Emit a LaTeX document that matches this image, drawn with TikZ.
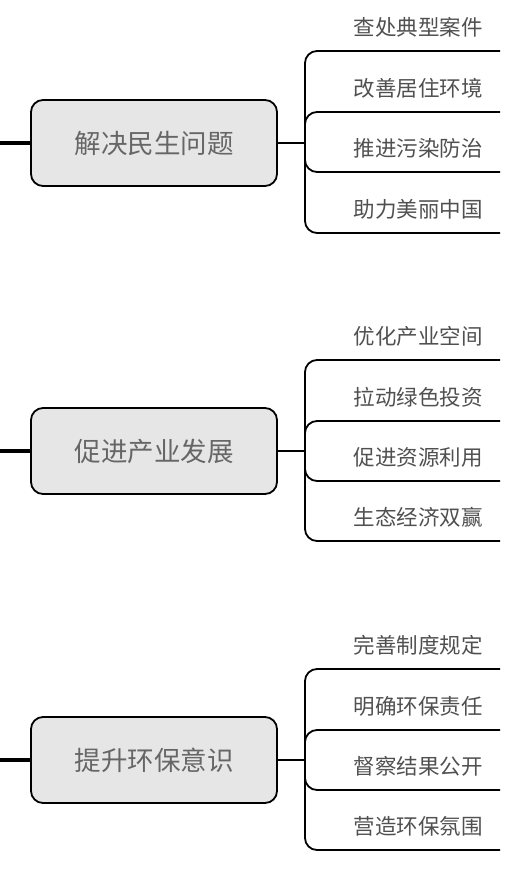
\documentclass[tikz,border=0pt]{standalone}
\usepackage{fontspec}
\newfontfamily\cjk{Noto Sans CJK SC}
\usepackage{xcolor}
\usepackage{tikz}
\usetikzlibrary{positioning}
\definecolor{topicfill}{HTML}{E6E6E6}
\definecolor{topictext}{HTML}{666666}
\definecolor{leaftext}{HTML}{505050}
\tikzset{
  topic/.style={draw=black, rounded corners=12pt, line width=1.8pt, fill=topicfill,
    minimum width=246pt, minimum height=86pt, inner sep=0pt,
    font=\cjk\fontsize{26.5pt}{30pt}\selectfont, text=topictext},
  leaf/.style={inner sep=0pt, font=\cjk\fontsize{21.5pt}{25pt}\selectfont, text=leaftext},
  link/.style={line width=1.8pt, draw=black, rounded corners=12pt},
  trunk/.style={line width=4pt, draw=black},
}

\begin{document}
\begin{tikzpicture}[x=1pt, y=-1pt]

\useasboundingbox (0,0) rectangle (526,874);

% topics
\node[topic] (t_live) at (154,143) {解决民生问题};
\node[topic] (t_ind) at (154,451) {促进产业发展};
\node[topic] (t_aware) at (154,760) {提升环保意识};

\coordinate (r_live) at (0,143);
\coordinate (r_ind) at (0,451);
\coordinate (r_aware) at (0,760);

\coordinate (j_live) at (305,143);
\coordinate (j_ind) at (305,451);
\coordinate (j_aware) at (305,760);

% leaves, group 1
\node[leaf] (l_case) at (418,27) {查处典型案件};
\node[leaf] (l_home) at (418,88) {改善居住环境};
\node[leaf] (l_poll) at (418,148) {推进污染防治};
\node[leaf] (l_china) at (418,209) {助力美丽中国};
\coordinate (e_case) at (500,51);
\coordinate (e_home) at (500,112);
\coordinate (e_poll) at (500,172);
\coordinate (e_china) at (500,233);

% leaves, group 2
\node[leaf] (l_space) at (418,336) {优化产业空间};
\node[leaf] (l_invest) at (418,397) {拉动绿色投资};
\node[leaf] (l_res) at (418,457) {促进资源利用};
\node[leaf] (l_win) at (418,517) {生态经济双赢};
\coordinate (e_space) at (500,360);
\coordinate (e_invest) at (500,421);
\coordinate (e_res) at (500,481);
\coordinate (e_win) at (500,541);

% leaves, group 3
\node[leaf] (l_rule) at (418,645) {完善制度规定};
\node[leaf] (l_duty) at (418,706) {明确环保责任};
\node[leaf] (l_open) at (418,766) {督察结果公开};
\node[leaf] (l_mood) at (418,826) {营造环保氛围};
\coordinate (e_rule) at (500,669);
\coordinate (e_duty) at (500,730);
\coordinate (e_open) at (500,790);
\coordinate (e_mood) at (500,850);

\draw[trunk] (r_live) -- (t_live.west);
\draw[trunk] (r_ind) -- (t_ind.west);
\draw[trunk] (r_aware) -- (t_aware.west);

\draw[link] (t_live.east) -- (j_live);
\draw[link] (t_ind.east) -- (j_ind);
\draw[link] (t_aware.east) -- (j_aware);

\draw[link] (j_live) |- (e_case);
\draw[link] (j_live) |- (e_home);
\draw[link] (j_live) |- (e_poll);
\draw[link] (j_live) |- (e_china);

\draw[link] (j_ind) |- (e_space);
\draw[link] (j_ind) |- (e_invest);
\draw[link] (j_ind) |- (e_res);
\draw[link] (j_ind) |- (e_win);

\draw[link] (j_aware) |- (e_rule);
\draw[link] (j_aware) |- (e_duty);
\draw[link] (j_aware) |- (e_open);
\draw[link] (j_aware) |- (e_mood);

\end{tikzpicture}
\end{document}
